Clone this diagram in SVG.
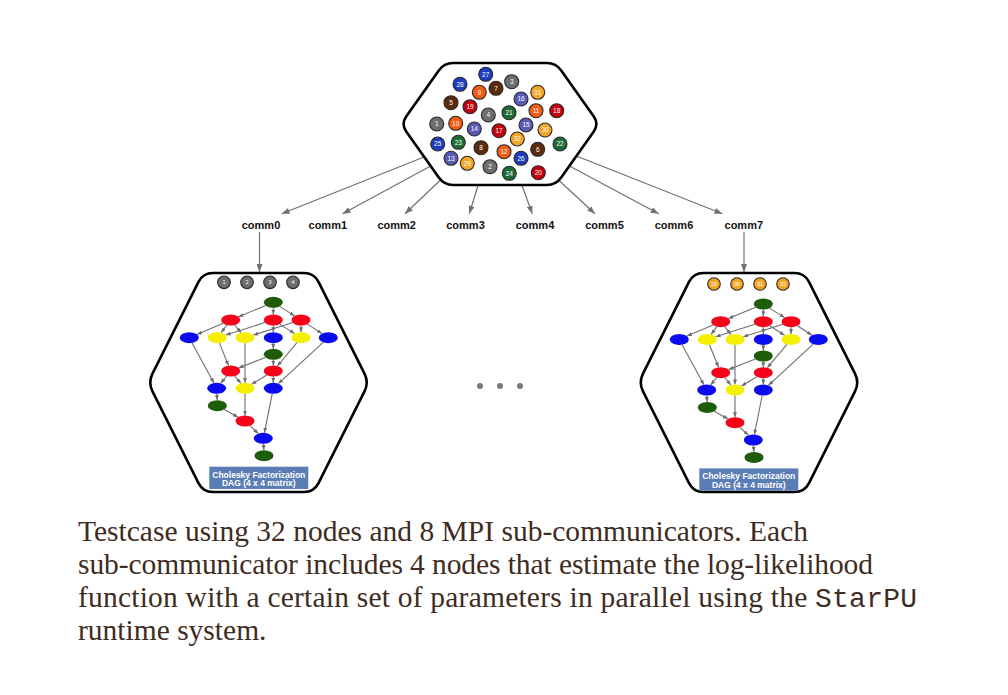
<svg xmlns="http://www.w3.org/2000/svg" xmlns:xlink="http://www.w3.org/1999/xlink" width="1008" height="695" viewBox="0 0 1008 695">
<style>
.hex{fill:#fff;stroke:#000;stroke-width:2.6;stroke-linejoin:round}
.pc{stroke:#2a2a2a;stroke-width:1.1}
.gy{fill:#6e6e6e}.db{fill:#1e3cc0}.br{fill:#5c2a0c}.or{fill:#f25c12}
.sb{fill:#5a5ab4}.dr{fill:#c4000e}.gr{fill:#1d6b35}.ye{fill:#f5a524}
.pn{font-family:"Liberation Sans",Arial,sans-serif;font-size:6.5px;fill:#fff;text-anchor:middle}
.pn2{font-family:"Liberation Sans",Arial,sans-serif;font-size:5.5px;fill:#fff;text-anchor:middle}
.conn{stroke:#707070;stroke-width:1.2;fill:none}
.de{stroke:#6e6e6e;stroke-width:1.1;fill:none}
.lbl{font-family:"Liberation Sans",Arial,sans-serif;font-size:11px;font-weight:bold;fill:#111;text-anchor:middle}
.eg{fill:#1f5c0a}.er{fill:#f70019}.eb{fill:#0b0bf0}.ey{fill:#f5f000}
.box{fill:#5b7db5}
.bt{font-family:"Liberation Sans",Arial,sans-serif;font-size:8.5px;font-weight:bold;fill:#fff;text-anchor:middle}
.cap{font-family:"Liberation Serif","Times New Roman",serif;font-size:29.5px;fill:#3f2c22}
.mono{font-family:"Liberation Mono","Courier New",monospace;font-size:28px}
</style>
<defs>
<marker id="arr" markerUnits="userSpaceOnUse" markerWidth="8" markerHeight="6" refX="8" refY="3" orient="auto"><path d="M0,0 L8,3 L0,6 z" fill="#707070"/></marker>
<marker id="arrs" markerUnits="userSpaceOnUse" markerWidth="5" markerHeight="4" refX="5" refY="2" orient="auto"><path d="M0,0 L5,2 L0,4 z" fill="#6e6e6e"/></marker>
<g id="dag">
<g class="dag-edges" marker-end="url(#arrs)">
<line class="de" x1="265.6" y1="305.5" x2="238.4" y2="316.8"/>
<line class="de" x1="273.3" y1="307.8" x2="273.3" y2="314.5"/>
<line class="de" x1="279.7" y1="306.4" x2="294.6" y2="315.9"/>
<line class="de" x1="223.1" y1="323.3" x2="197" y2="334.4"/>
<line class="de" x1="226.9" y1="325" x2="221.1" y2="332.7"/>
<line class="de" x1="234.7" y1="325" x2="241" y2="332.7"/>
<line class="de" x1="265" y1="322.6" x2="225.6" y2="335.1"/>
<line class="de" x1="273.3" y1="325.5" x2="273.3" y2="332.2"/>
<line class="de" x1="279.7" y1="324.1" x2="294.6" y2="333.6"/>
<line class="de" x1="292.7" y1="322.6" x2="253.3" y2="335.1"/>
<line class="de" x1="301" y1="325.5" x2="301" y2="332.2"/>
<line class="de" x1="307.4" y1="324.1" x2="322" y2="333.6"/>
<line class="de" x1="192.1" y1="343" x2="213.9" y2="383.1"/>
<line class="de" x1="219.5" y1="343.1" x2="228.5" y2="365.6"/>
<line class="de" x1="245" y1="343.2" x2="245" y2="382.8"/>
<line class="de" x1="273.3" y1="343.2" x2="273.3" y2="348.8"/>
<line class="de" x1="296.9" y1="342.7" x2="277.4" y2="366"/>
<line class="de" x1="323.2" y1="342.4" x2="278.4" y2="383.6"/>
<line class="de" x1="265.4" y1="357.4" x2="238.6" y2="367.9"/>
<line class="de" x1="273.3" y1="359.8" x2="273.3" y2="365.5"/>
<line class="de" x1="226.7" y1="376" x2="220.7" y2="383.3"/>
<line class="de" x1="234.8" y1="376" x2="240.9" y2="383.3"/>
<line class="de" x1="266.8" y1="375" x2="251.5" y2="384.3"/>
<line class="de" x1="273.3" y1="376.5" x2="273.3" y2="382.8"/>
<line class="de" x1="216.8" y1="393.8" x2="217.2" y2="400.2"/>
<line class="de" x1="224.2" y1="409.5" x2="238.1" y2="417.2"/>
<line class="de" x1="245" y1="393.8" x2="245" y2="415.5"/>
<line class="de" x1="272.2" y1="393.8" x2="264.4" y2="432.8"/>
<line class="de" x1="250" y1="425.7" x2="258.3" y2="433.6"/>
<line class="de" x1="263.4" y1="443.8" x2="263.9" y2="450.2"/>
</g>
<g class="dag-nodes">
<ellipse class="eg" cx="273.3" cy="302.3" rx="9.5" ry="5.5"/>
<ellipse class="er" cx="230.7" cy="320" rx="9.5" ry="5.5"/>
<ellipse class="er" cx="273.3" cy="320" rx="9.5" ry="5.5"/>
<ellipse class="er" cx="301" cy="320" rx="9.5" ry="5.5"/>
<ellipse class="eb" cx="189.3" cy="337.7" rx="9.5" ry="5.5"/>
<ellipse class="ey" cx="217.3" cy="337.7" rx="9.5" ry="5.5"/>
<ellipse class="ey" cx="245" cy="337.7" rx="9.5" ry="5.5"/>
<ellipse class="eb" cx="273.3" cy="337.7" rx="9.5" ry="5.5"/>
<ellipse class="ey" cx="301" cy="337.7" rx="9.5" ry="5.5"/>
<ellipse class="eb" cx="328.3" cy="337.7" rx="9.5" ry="5.5"/>
<ellipse class="eg" cx="273.3" cy="354.3" rx="9.5" ry="5.5"/>
<ellipse class="er" cx="230.7" cy="371" rx="9.5" ry="5.5"/>
<ellipse class="er" cx="273.3" cy="371" rx="9.5" ry="5.5"/>
<ellipse class="eb" cx="216.7" cy="388.3" rx="9.5" ry="5.5"/>
<ellipse class="ey" cx="245" cy="388.3" rx="9.5" ry="5.5"/>
<ellipse class="eb" cx="273.3" cy="388.3" rx="9.5" ry="5.5"/>
<ellipse class="eg" cx="217.3" cy="405.7" rx="9.5" ry="5.5"/>
<ellipse class="er" cx="245" cy="421" rx="9.5" ry="5.5"/>
<ellipse class="eb" cx="263.3" cy="438.3" rx="9.5" ry="5.5"/>
<ellipse class="eg" cx="264" cy="455.7" rx="9.5" ry="5.5"/>
</g>
<rect class="box" x="209.3" y="466.7" width="99" height="22.3"/>
<text class="bt" x="258.8" y="477.8">Cholesky Factorization</text>
<text class="bt" x="258.8" y="486.4">DAG (4 x 4 matrix)</text>
</g>
</defs>
<rect width="1008" height="695" fill="#fff"/>

<g id="connectors">
<g marker-end="url(#arr)">
<line class="conn" x1="424" y1="157" x2="281.7" y2="213.8"/>
<line class="conn" x1="430.6" y1="166" x2="342.6" y2="213.8"/>
<line class="conn" x1="440.5" y1="180" x2="405" y2="213.8"/>
<line class="conn" x1="478" y1="185.5" x2="469.3" y2="213.8"/>
<line class="conn" x1="522" y1="185.5" x2="532.3" y2="213.8"/>
<line class="conn" x1="558.5" y1="180" x2="595" y2="213.8"/>
<line class="conn" x1="569.4" y1="166" x2="658.7" y2="213.8"/>
<line class="conn" x1="576.4" y1="156" x2="722.4" y2="213.8"/>
<line class="conn" x1="259.5" y1="232" x2="259.5" y2="272"/>
<line class="conn" x1="744" y1="232" x2="744" y2="272"/>
</g>
</g>

<g id="cluster">
<path class="hex" d="M453,63 L547,63 Q556,63 561.2,70.4 L593.8,116.6 Q599,124 593.8,131.4 L561.2,177.6 Q556,185 547,185 L453,185 Q444,185 438.8,177.6 L406.2,131.4 Q401,124 406.2,116.6 L438.8,70.4 Q444,63 453,63 Z"/>
<g class="pc">
<circle class="db" cx="485.7" cy="74.3" r="7"/>
<circle class="gy" cx="511.7" cy="81.7" r="7"/>
<circle class="db" cx="460" cy="84.3" r="7"/>
<circle class="br" cx="496" cy="88.3" r="7"/>
<circle class="or" cx="479.3" cy="92.3" r="7"/>
<circle class="ye" cx="537.7" cy="92.3" r="7"/>
<circle class="br" cx="451" cy="102.7" r="7"/>
<circle class="sb" cx="521" cy="99" r="7"/>
<circle class="dr" cx="470" cy="106.7" r="7"/>
<circle class="gy" cx="488.3" cy="115" r="7"/>
<circle class="gr" cx="509" cy="112.7" r="7"/>
<circle class="or" cx="536" cy="110.7" r="7"/>
<circle class="dr" cx="556.7" cy="110.7" r="7"/>
<circle class="gy" cx="436.7" cy="124" r="7"/>
<circle class="or" cx="455.7" cy="123.3" r="7"/>
<circle class="sb" cx="474.3" cy="129" r="7"/>
<circle class="dr" cx="499" cy="130.7" r="7"/>
<circle class="sb" cx="526" cy="125" r="7"/>
<circle class="ye" cx="545" cy="130" r="7"/>
<circle class="db" cx="437.7" cy="144" r="7"/>
<circle class="gr" cx="458.3" cy="142.3" r="7"/>
<circle class="br" cx="481" cy="147.7" r="7"/>
<circle class="ye" cx="517.3" cy="139" r="7"/>
<circle class="or" cx="504" cy="151.7" r="7"/>
<circle class="br" cx="537.7" cy="149.3" r="7"/>
<circle class="gr" cx="560" cy="144" r="7"/>
<circle class="sb" cx="451" cy="158.3" r="7"/>
<circle class="ye" cx="467.3" cy="163.3" r="7"/>
<circle class="gy" cx="490" cy="166.7" r="7"/>
<circle class="db" cx="521" cy="158.3" r="7"/>
<circle class="gr" cx="509.3" cy="173.3" r="7"/>
<circle class="dr" cx="538.3" cy="172.7" r="7"/>
</g>
<g class="pn">
<text x="485.7" y="76.6">27</text>
<text x="511.7" y="84">3</text>
<text x="460" y="86.6">28</text>
<text x="496" y="90.6">7</text>
<text x="479.3" y="94.6">9</text>
<text x="537.7" y="94.6">31</text>
<text x="451" y="105">5</text>
<text x="521" y="101.3">16</text>
<text x="470" y="109">19</text>
<text x="488.3" y="117.3">4</text>
<text x="509" y="115">21</text>
<text x="536" y="113">11</text>
<text x="556.7" y="113">18</text>
<text x="436.7" y="126.3">1</text>
<text x="455.7" y="125.6">10</text>
<text x="474.3" y="131.3">14</text>
<text x="499" y="133">17</text>
<text x="526" y="127.3">15</text>
<text x="545" y="132.3">30</text>
<text x="437.7" y="146.3">25</text>
<text x="458.3" y="144.6">23</text>
<text x="481" y="150">8</text>
<text x="517.3" y="141.3">32</text>
<text x="504" y="154">12</text>
<text x="537.7" y="151.6">6</text>
<text x="560" y="146.3">22</text>
<text x="451" y="160.6">13</text>
<text x="467.3" y="165.6">29</text>
<text x="490" y="169">2</text>
<text x="521" y="160.6">26</text>
<text x="509.3" y="175.6">24</text>
<text x="538.3" y="175">20</text>
</g>
</g>

<g id="labels">
<text class="lbl" x="261" y="228.5">comm0</text>
<text class="lbl" x="327.8" y="228.5">comm1</text>
<text class="lbl" x="396.7" y="228.5">comm2</text>
<text class="lbl" x="465.5" y="228.5">comm3</text>
<text class="lbl" x="535" y="228.5">comm4</text>
<text class="lbl" x="604.5" y="228.5">comm5</text>
<text class="lbl" x="674" y="228.5">comm6</text>
<text class="lbl" x="743.8" y="228.5">comm7</text>
</g>

<g id="comm0-group">
<path class="hex" d="M213,273 L304,273 Q314,273 318.5,281.9 L364.5,373.6 Q369,382.5 364.5,391.4 L318.5,483.1 Q314,492 304,492 L213,492 Q203,492 198.5,483.1 L152.5,391.4 Q148,382.5 152.5,373.6 L198.5,281.9 Q203,273 213,273 Z"/>
<g class="pc">
<circle class="gy" cx="224" cy="282.3" r="6.3"/>
<circle class="gy" cx="247" cy="282.3" r="6.3"/>
<circle class="gy" cx="270" cy="282.3" r="6.3"/>
<circle class="gy" cx="293" cy="282.3" r="6.3"/>
</g>
<g class="pn2">
<text x="224" y="284.3">1</text>
<text x="247" y="284.3">2</text>
<text x="270" y="284.3">3</text>
<text x="293" y="284.3">4</text>
</g>
<use xlink:href="#dag" href="#dag"/>
</g>

<g id="comm7-group">
<path class="hex" transform="translate(490.5,0)" d="M213,273 L304,273 Q314,273 318.5,281.9 L364.5,373.6 Q369,382.5 364.5,391.4 L318.5,483.1 Q314,492 304,492 L213,492 Q203,492 198.5,483.1 L152.5,391.4 Q148,382.5 152.5,373.6 L198.5,281.9 Q203,273 213,273 Z"/>
<g transform="translate(490,1.7)">
<g class="pc">
<circle class="ye" cx="224" cy="282.3" r="6.3"/>
<circle class="ye" cx="247" cy="282.3" r="6.3"/>
<circle class="ye" cx="270" cy="282.3" r="6.3"/>
<circle class="ye" cx="293" cy="282.3" r="6.3"/>
</g>
<g class="pn2">
<text x="224" y="284.3">29</text>
<text x="247" y="284.3">30</text>
<text x="270" y="284.3">31</text>
<text x="293" y="284.3">32</text>
</g>
<use xlink:href="#dag" href="#dag"/>
</g>
</g>

<g id="ellipsis">
<circle cx="480" cy="386" r="3" fill="#777"/>
<circle cx="500" cy="386" r="3" fill="#777"/>
<circle cx="520" cy="386" r="3" fill="#777"/>
</g>

<g id="caption">
<text class="cap" x="78" y="541" textLength="730">Testcase using 32 nodes and 8 MPI sub-communicators. Each</text>
<text class="cap" x="78" y="574" textLength="795">sub-communicator includes 4 nodes that estimate the log-likelihood</text>
<text class="cap" x="78" y="607" textLength="839">function with a certain set of parameters in parallel using the <tspan class="mono">StarPU</tspan></text>
<text class="cap" x="78" y="640">runtime system.</text>
</g>
</svg>
